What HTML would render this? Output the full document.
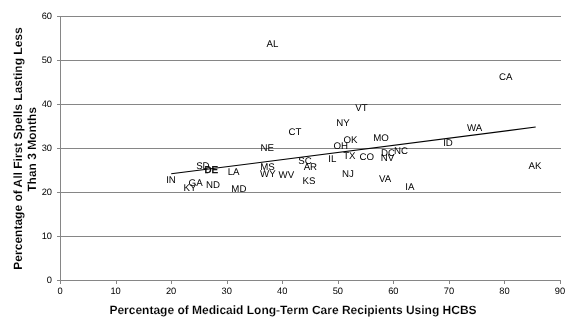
<!DOCTYPE html>
<html><head><meta charset="utf-8"><style>
html,body{margin:0;padding:0;background:#fff;width:577px;height:328px;overflow:hidden}
svg{position:absolute;left:0;top:0;will-change:transform}
text{font-family:"Liberation Sans",sans-serif;text-rendering:geometricPrecision}
</style></head><body>
<svg width="577" height="328" viewBox="0 0 577 328">
<g stroke="#868686" stroke-width="1" shape-rendering="crispEdges">
<line x1="57" y1="16.5" x2="561" y2="16.5"/>
<line x1="57" y1="60.5" x2="561" y2="60.5"/>
<line x1="57" y1="104.5" x2="561" y2="104.5"/>
<line x1="57" y1="148.5" x2="561" y2="148.5"/>
<line x1="57" y1="192.5" x2="561" y2="192.5"/>
<line x1="57" y1="236.5" x2="561" y2="236.5"/>
<line x1="57" y1="280.5" x2="561" y2="280.5"/>
<line x1="60.5" y1="16" x2="60.5" y2="280"/>
<line x1="60.5" y1="280" x2="60.5" y2="284"/>
<line x1="116.5" y1="280" x2="116.5" y2="284"/>
<line x1="171.5" y1="280" x2="171.5" y2="284"/>
<line x1="227.5" y1="280" x2="227.5" y2="284"/>
<line x1="282.5" y1="280" x2="282.5" y2="284"/>
<line x1="338.5" y1="280" x2="338.5" y2="284"/>
<line x1="393.5" y1="280" x2="393.5" y2="284"/>
<line x1="449.5" y1="280" x2="449.5" y2="284"/>
<line x1="504.5" y1="280" x2="504.5" y2="284"/>
<line x1="560.5" y1="280" x2="560.5" y2="284"/>
</g>
<line x1="171.2" y1="173.8" x2="535.7" y2="127.1" stroke="#000" stroke-width="1.05"/>
<g font-size="9.7" fill="#000" text-anchor="middle">
<text x="272.4" y="46.8">AL</text>
<text x="505.7" y="79.8">CA</text>
<text x="361.5" y="111.0">VT</text>
<text x="343.1" y="125.8">NY</text>
<text x="295.0" y="135.2">CT</text>
<text x="474.5" y="130.9">WA</text>
<text x="350.5" y="142.8">OK</text>
<text x="381.0" y="140.9">MO</text>
<text x="340.8" y="148.7">OH</text>
<text x="267.3" y="151.0">NE</text>
<text x="448.0" y="146.3">ID</text>
<text x="388.1" y="156.2">DC</text>
<text x="401.0" y="153.9">NC</text>
<text x="387.5" y="161.2">NV</text>
<text x="332.4" y="161.8">IL</text>
<text x="349.4" y="159.0">TX</text>
<text x="366.7" y="160.0">CO</text>
<text x="202.9" y="169.1">SD</text>
<text x="211.3" y="172.5" stroke="#000" stroke-width="0.45">DE</text>
<text x="267.4" y="169.7">MS</text>
<text x="305.1" y="163.7">SC</text>
<text x="310.4" y="170.1">AR</text>
<text x="535.0" y="169.2">AK</text>
<text x="233.6" y="175.0">LA</text>
<text x="267.9" y="177.2">WY</text>
<text x="286.4" y="178.2">WV</text>
<text x="347.9" y="176.8">NJ</text>
<text x="171.0" y="182.7">IN</text>
<text x="195.6" y="185.8">GA</text>
<text x="189.9" y="190.8">KY</text>
<text x="213.1" y="187.9">ND</text>
<text x="308.9" y="183.9">KS</text>
<text x="385.1" y="181.9">VA</text>
<text x="238.9" y="192.1">MD</text>
<text x="409.9" y="190.0">IA</text>
</g>
<g font-size="9.3" fill="#000">
<text x="52" y="19.0" text-anchor="end">60</text>
<text x="52" y="63.0" text-anchor="end">50</text>
<text x="52" y="107.0" text-anchor="end">40</text>
<text x="52" y="151.0" text-anchor="end">30</text>
<text x="52" y="195.0" text-anchor="end">20</text>
<text x="52" y="239.0" text-anchor="end">10</text>
<text x="52" y="283.0" text-anchor="end">0</text>
<text x="60.0" y="294" text-anchor="middle">0</text>
<text x="115.6" y="294" text-anchor="middle">10</text>
<text x="171.1" y="294" text-anchor="middle">20</text>
<text x="226.7" y="294" text-anchor="middle">30</text>
<text x="282.2" y="294" text-anchor="middle">40</text>
<text x="337.8" y="294" text-anchor="middle">50</text>
<text x="393.3" y="294" text-anchor="middle">60</text>
<text x="448.9" y="294" text-anchor="middle">70</text>
<text x="504.4" y="294" text-anchor="middle">80</text>
<text x="560.0" y="294" text-anchor="middle">90</text>
</g>
<g font-size="12" font-weight="bold" fill="#000" stroke="#fff" stroke-width="0.12">
<text x="293" y="313.7" text-anchor="middle">Percentage of Medicaid Long-Term Care Recipients Using HCBS</text>
<text transform="translate(22,148.5) rotate(-90)" text-anchor="middle">Percentage of All First Spells Lasting Less</text>
<text transform="translate(36,149.4) rotate(-90)" text-anchor="middle">Than 3 Months</text>
</g>
</svg>
</body></html>
